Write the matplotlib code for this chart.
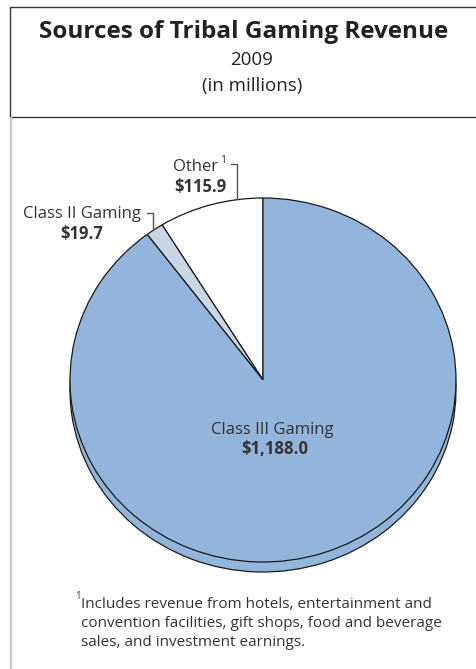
import matplotlib.pyplot as plt
from matplotlib.patches import Rectangle

plt.rcParams['font.family'] = ['Open Sans', 'DejaVu Sans']

# ---------------------- DATA ---------------------- #
categories = ["Other", "Class II Gaming", "Class III Gaming"]
values = [115.9, 19.7, 1188.0]
value_labels = ["$115.9", "$19.7", "$1,188.0"]
colors = ["#ffffff", "#c9d6e6", "#93b5db"]
title_lines = ["Sources of Tribal Gaming Revenue", "2009", "(in millions)"]
footnote = ["Includes revenue from hotels, entertainment and",
            "convention facilities, gift shops, food and beverage",
            "sales, and investment earnings."]

W, H = 476, 669
TXT = "#333333"

fig = plt.figure(figsize=(W / 100, H / 100), dpi=100)
fig.patch.set_facecolor("white")

# ---------------------- PIE ---------------------- #
# pie box in pixels (top-left origin), ellipse centre / radii, 3d depth
px_l, px_r, px_t, px_b = 60, 466, 190, 580
cx, cy, rx, ry = 263, 380, 193, 182
depth = 10

ax_pie = fig.add_axes([px_l / W, 1 - px_b / H, (px_r - px_l) / W, (px_b - px_t) / H])
wp = dict(edgecolor="#1a1a1a", linewidth=0.9)
ax_pie.pie(values, colors=colors, startangle=90, counterclock=True,
           center=(0, -depth / ry), wedgeprops=wp)
ax_pie.pie(values, colors=colors, startangle=90, counterclock=True,
           center=(0, 0), wedgeprops=wp)
ax_pie.set_aspect("auto")
ax_pie.set_xlim(-(cx - px_l) / rx, (px_r - cx) / rx)
ax_pie.set_ylim(-(px_b - cy) / ry, (cy - px_t) / ry)
ax_pie.axis("off")

# ---------------------- OVERLAY (pixel coords) ---------------------- #
ov = fig.add_axes([0, 0, 1, 1], zorder=5)
ov.set_xlim(0, W)
ov.set_ylim(H, 0)
ov.axis("off")
ov.patch.set_alpha(0)

# title box + left rule
ov.add_patch(Rectangle((10, 7), 480, 110, fill=False, ec="#333333", lw=1.0, clip_on=False))
ov.plot([11, 11], [118, H], color="#c8c8c8", lw=1.6)

ov.text(244, 38, title_lines[0], ha="center", va="baseline", fontsize=17.5, fontweight="bold", color="#222222")
ov.text(252, 65, title_lines[1], ha="center", va="baseline", fontsize=13.5, color="#222222")
ov.text(252, 91, title_lines[2], ha="center", va="baseline", fontsize=13.5, color="#222222")

# slice labels
ov.text(272, 434, categories[2], ha="center", va="baseline", fontsize=12, color=TXT)
ov.text(275, 454, value_labels[2], ha="center", va="baseline", fontsize=12, fontweight="bold", color=TXT)

ov.text(82, 218, categories[1], ha="center", va="baseline", fontsize=12, color=TXT)
ov.text(82, 239, value_labels[1], ha="center", va="baseline", fontsize=12, fontweight="bold", color=TXT)
ov.plot([147, 153, 153], [213, 213, 228], color="#555555", lw=1.0)

ov.text(195, 171, categories[0], ha="center", va="baseline", fontsize=12, color=TXT)
ov.text(220, 163, "1", ha="left", va="baseline", fontsize=7.5, color=TXT)
ov.text(200, 192, value_labels[0], ha="center", va="baseline", fontsize=12, fontweight="bold", color=TXT)
ov.plot([231, 237, 237], [164, 164, 199], color="#555555", lw=1.0)

# footnote
ov.text(75, 599, "1", ha="left", va="baseline", fontsize=7, color=TXT)
for i, line in enumerate(footnote):
    ov.text(81, 608 + i * 19, line, ha="left", va="baseline", fontsize=11, color=TXT)

fig.savefig("out.png", dpi=100)
